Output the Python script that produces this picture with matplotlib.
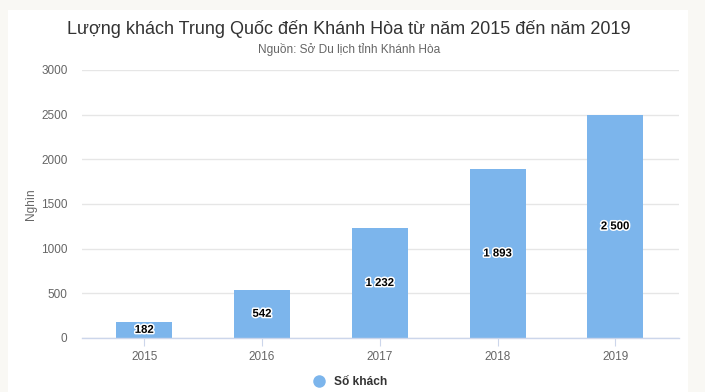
import matplotlib
matplotlib.use('Agg')
import matplotlib.pyplot as plt
import matplotlib.patheffects as pe
from matplotlib.patches import Rectangle
from matplotlib.lines import Line2D

plt.rcParams['font.family'] = ['Liberation Sans', 'DejaVu Sans']

# dữ liệu
years = ['2015', '2016', '2017', '2018', '2019']
visitors = [182, 542, 1232, 1893, 2500]
value_labels = ['182', '542', '1 232', '1 893', '2 500']
y_ticks = [0, 500, 1000, 1500, 2000, 2500, 3000]

W, H = 705, 392
fig = plt.figure(figsize=(W / 100, H / 100), dpi=100)
fig.patch.set_facecolor('#f9f8f4')
fig.patches.append(Rectangle((8 / W, 0), 680 / W, (H - 10) / H,
                             transform=fig.transFigure, facecolor='white',
                             edgecolor='none', zorder=-10))

ax = fig.add_axes([82 / W, (H - 338) / H, 597 / W, 268 / H])
ax.set_facecolor('none')
ax.set_zorder(2)

x = list(range(len(years)))
ax.bar(x, visitors, width=0.476, color='#7cb5ec', zorder=2)
for xi, v, lab in zip(x, visitors, value_labels):
    ax.text(xi, v / 2, lab, ha='center', va='center', fontsize=8.2,
            fontweight='bold', color='black', zorder=3,
            path_effects=[pe.withStroke(linewidth=2.2, foreground='white')])

ax.set_xlim(-0.529, 4.541)
ax.set_ylim(0, 3000)
ax.set_yticks(y_ticks)
ax.set_yticklabels([str(t) for t in y_ticks])
ax.set_xticks(x)
ax.set_xticklabels(years)
ax.grid(axis='y', color='#e6e6e6', linewidth=1, zorder=0)
ax.set_axisbelow(True)
for s in ['top', 'right', 'left']:
    ax.spines[s].set_visible(False)
ax.spines['bottom'].set_color('#ccd6eb')
ax.spines['bottom'].set_linewidth(1)
ax.tick_params(axis='y', length=0, pad=10.5, labelsize=8.5, labelcolor='#666666')
ax.tick_params(axis='x', length=6, color='#ccd6eb', pad=3, labelsize=8.5,
               labelcolor='#666666')
ax.set_ylabel('Nghìn', fontsize=8.5, color='#666666', labelpad=3)

fig.text(349 / W, 1 - 28.5 / H, 'Lượng khách Trung Quốc đến Khánh Hòa từ năm 2015 đến năm 2019',
         ha='center', va='center', fontsize=12.95, color='#333333')
fig.text(349 / W, 1 - 49 / H, 'Nguồn: Sở Du lịch tỉnh Khánh Hòa',
         ha='center', va='center', fontsize=8.6, color='#666666')

handle = Line2D([], [], marker='o', linestyle='none', markersize=9,
                markerfacecolor='#7cb5ec', markeredgecolor='none')
leg = fig.legend([handle], ['Số khách'], loc='center', bbox_to_anchor=(347 / W, 1 - 382 / H),
                 frameon=False, handletextpad=0.3, prop={'weight': 'bold', 'size': 8.6})
for t in leg.get_texts():
    t.set_color('#333333')

plt.savefig('out.png', dpi=100, facecolor=fig.get_facecolor())
print('Saved: out.png')
